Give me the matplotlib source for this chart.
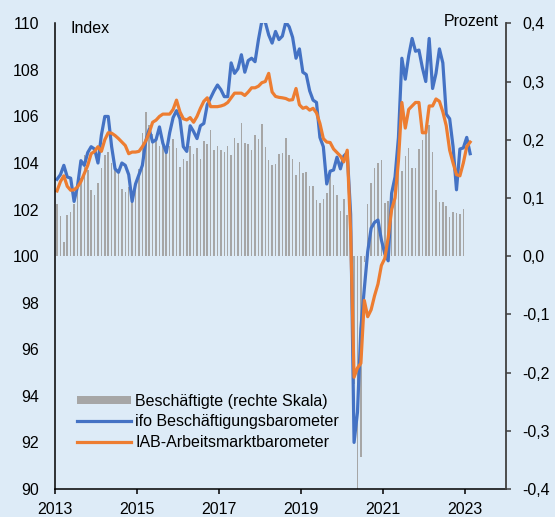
import numpy as np
import matplotlib.pyplot as plt
from matplotlib.patches import Patch
from matplotlib.lines import Line2D

plt.rcParams['font.family'] = ['Liberation Sans', 'DejaVu Sans']
plt.rcParams['font.size'] = 11.5

# monthly data, Jan 2013 = month 0
ifo = [
    103.3, 103.5, 103.9, 103.4, 103.35, 102.35, 103.0, 104.1, 103.9, 104.45, 104.7, 104.6,   # 2013
    104.0, 105.2, 106.0, 106.0, 104.7, 103.75, 103.6, 104.0, 103.9, 103.5, 102.35, 103.1,   # 2014
    103.5, 103.9, 104.95, 105.45, 104.9, 105.0, 105.55, 104.85, 104.45, 105.3, 105.95, 106.25,  # 2015
    105.9, 104.7, 104.5, 105.6, 105.35, 105.05, 105.6, 105.7, 106.5, 106.8, 107.1, 107.35,  # 2016
    107.15, 106.85, 106.85, 108.3, 107.85, 108.05, 108.65, 107.9, 108.4, 108.5, 108.35, 109.3,  # 2017
    110.1, 110.05, 109.5, 109.15, 109.65, 109.3, 109.45, 110.05, 109.85, 109.4, 108.5, 108.9,  # 2018
    107.9, 107.8, 107.1, 106.7, 106.6, 105.1, 104.7, 103.1, 103.65, 103.7, 104.25, 103.75,  # 2019
    104.3, 104.45, 101.8, 92.0, 93.3, 96.9, 98.6, 100.2, 101.2, 101.45, 101.55, 100.7,  # 2020
    100.1, 99.8, 102.7, 103.4, 105.1, 108.5, 107.6, 108.6, 109.35, 108.8, 108.85, 108.1,  # 2021
    107.5, 109.35, 107.2, 107.85, 108.9, 108.3, 106.1, 105.9, 104.7, 102.85, 104.6, 104.65,  # 2022
    105.1, 104.4,  # 2023
]
iab = [
    102.8, 103.2, 103.45, 103.0, 102.83, 102.85, 102.97, 103.2, 103.55, 103.9, 104.4, 104.5,
    104.7, 104.5, 105.0, 105.3, 105.28, 105.18, 105.05, 104.9, 104.75, 104.4, 104.47, 104.47,
    104.5, 104.7, 104.95, 105.3, 105.75, 105.84, 106.0, 106.1, 106.1, 106.1, 106.3, 106.7,
    106.2, 105.9, 105.85, 105.95, 105.75, 106.0, 106.35, 106.65, 106.8, 106.42, 106.42, 106.42,
    106.45, 106.5, 106.6, 106.8, 107.0, 107.0, 107.0, 106.9, 107.05, 107.23, 107.23, 107.3,
    107.45, 107.5, 107.85, 107.05, 106.86, 106.82, 106.8, 106.77, 106.7, 106.72, 107.2, 106.5,
    106.35, 106.4, 106.27, 106.35, 106.15, 105.7, 105.05, 104.9, 104.88, 104.6, 104.45, 104.3,
    104.05, 104.55, 101.0, 94.8, 95.2, 95.4, 98.1, 97.4, 97.7, 98.3, 98.8, 99.6,
    99.9, 100.8, 102.0, 102.5, 104.1, 106.6, 105.5, 106.3, 106.45, 106.6, 106.6, 105.3,
    105.3, 106.45, 106.45, 106.75, 106.65, 106.2, 105.6, 104.55, 104.0, 103.5, 103.45, 104.0,
    104.7, 104.9,
]
beschaeftigte = [
    0.089, 0.069, 0.025, 0.070, 0.075, 0.090, 0.113, 0.135, 0.173, 0.148, 0.113, 0.105,
    0.126, 0.152, 0.173, 0.179, 0.160, 0.148, 0.142, 0.116, 0.110, 0.118, 0.100, 0.127,
    0.150, 0.211, 0.247, 0.225, 0.210, 0.200, 0.190, 0.190, 0.185, 0.190, 0.201, 0.186,
    0.154, 0.167, 0.164, 0.189, 0.175, 0.186, 0.167, 0.198, 0.193, 0.216, 0.182, 0.189,
    0.182, 0.179, 0.190, 0.173, 0.203, 0.194, 0.228, 0.194, 0.192, 0.183, 0.208, 0.201,
    0.227, 0.187, 0.165, 0.156, 0.158, 0.175, 0.177, 0.203, 0.173, 0.167, 0.139, 0.161,
    0.142, 0.144, 0.120, 0.120, 0.096, 0.091, 0.098, 0.108, 0.139, 0.122, 0.105, 0.077,
    0.098, 0.070, -0.030, -0.220, -0.420, -0.345, -0.010, 0.090, 0.125, 0.151, 0.160, 0.165,
    0.091, 0.095, 0.110, 0.130, 0.146, 0.146, 0.172, 0.186, 0.151, 0.151, 0.184, 0.200,
    0.211, 0.225, 0.179, 0.113, 0.093, 0.093, 0.086, 0.067, 0.076, 0.074, 0.073, 0.081,
]
year_ticks = [2013, 2015, 2017, 2019, 2021, 2023]
left_ticks = [90, 92, 94, 96, 98, 100, 102, 104, 106, 108, 110]
right_ticks = [-0.4, -0.3, -0.2, -0.1, 0.0, 0.1, 0.2, 0.3, 0.4]

bg = '#ddebf7'
col_bar = '#a6a6a6'
col_ifo = '#4472c4'
col_iab = '#ed7d31'

t_line = 2013 + (np.arange(len(ifo)) + 0.5) / 12
t_bar = 2013 + (np.arange(len(beschaeftigte)) + 0.5) / 12

fig = plt.figure(figsize=(5.55, 5.17), dpi=100, facecolor=bg)
ax = fig.add_axes([55.3/555, 28/517, (506-55.3)/555, (489-23.3)/517])
ax.set_facecolor(bg)
ax2 = ax.twinx()

# bars on right scale
ax.bar(t_bar, beschaeftigte, width=0.45/12, color=col_bar, linewidth=0)
ax.set_ylim(-0.4, 0.4)
ax.set_xlim(2013, 2024)
ax.set_yticks(right_ticks)
ax.set_yticklabels([f'{v:.1f}'.replace('.', ',') for v in right_ticks])
ax.set_xticks(year_ticks)
ax.set_xticklabels([str(y) for y in year_ticks])
ax.tick_params(axis='y', right=True, left=False, labelright=True, labelleft=False,
               direction='out', length=3.5, width=1.1, color='#404040', pad=8)
ax.tick_params(axis='x', direction='out', length=3.5, width=1.1, color='black', pad=6)
ax.spines['top'].set_visible(False)
ax.spines['left'].set_visible(False)
ax.spines['right'].set_visible(False)
ax.spines['bottom'].set_color('black')
ax.spines['bottom'].set_linewidth(1.1)

# lines on left scale
ax2.plot(t_line, ifo, color=col_ifo, lw=2.3, solid_joinstyle='round')
ax2.plot(t_line, iab, color=col_iab, lw=2.3, solid_joinstyle='round')
ax2.set_ylim(90, 110)
ax2.set_yticks(left_ticks)
ax2.tick_params(axis='y', left=True, right=False, labelleft=True, labelright=False,
                length=0, pad=11.5)
ax2.spines['top'].set_visible(False)
ax2.spines['bottom'].set_visible(False)
ax2.spines['left'].set_visible(True)
ax2.spines['left'].set_color('black')
ax2.spines['left'].set_linewidth(1.1)
ax2.spines['right'].set_color('#404040')
ax2.spines['right'].set_linewidth(1.3)

fig.text(71/555, 1 - 32.7/517, 'Index', ha='left', va='baseline')
fig.text(498.3/555, 1 - 26/517, 'Prozent', ha='right', va='baseline')

handles = [Patch(facecolor=col_bar, edgecolor='none'),
           Line2D([], [], color=col_ifo, lw=2.3),
           Line2D([], [], color=col_iab, lw=2.3)]
labels = ['Beschäftigte (rechte Skala)', 'ifo Beschäftigungsbarometer',
          'IAB-Arbeitsmarktbarometer']
fig.legend(handles, labels, loc='center left', bbox_to_anchor=(77/555, 1 - 421.9/517),
           frameon=False, borderpad=0, borderaxespad=0, handlelength=3.35,
           handleheight=0.45, handletextpad=0.3, labelspacing=0.35, fontsize=11.5)

fig.savefig('out.png', dpi=100, facecolor=bg)
